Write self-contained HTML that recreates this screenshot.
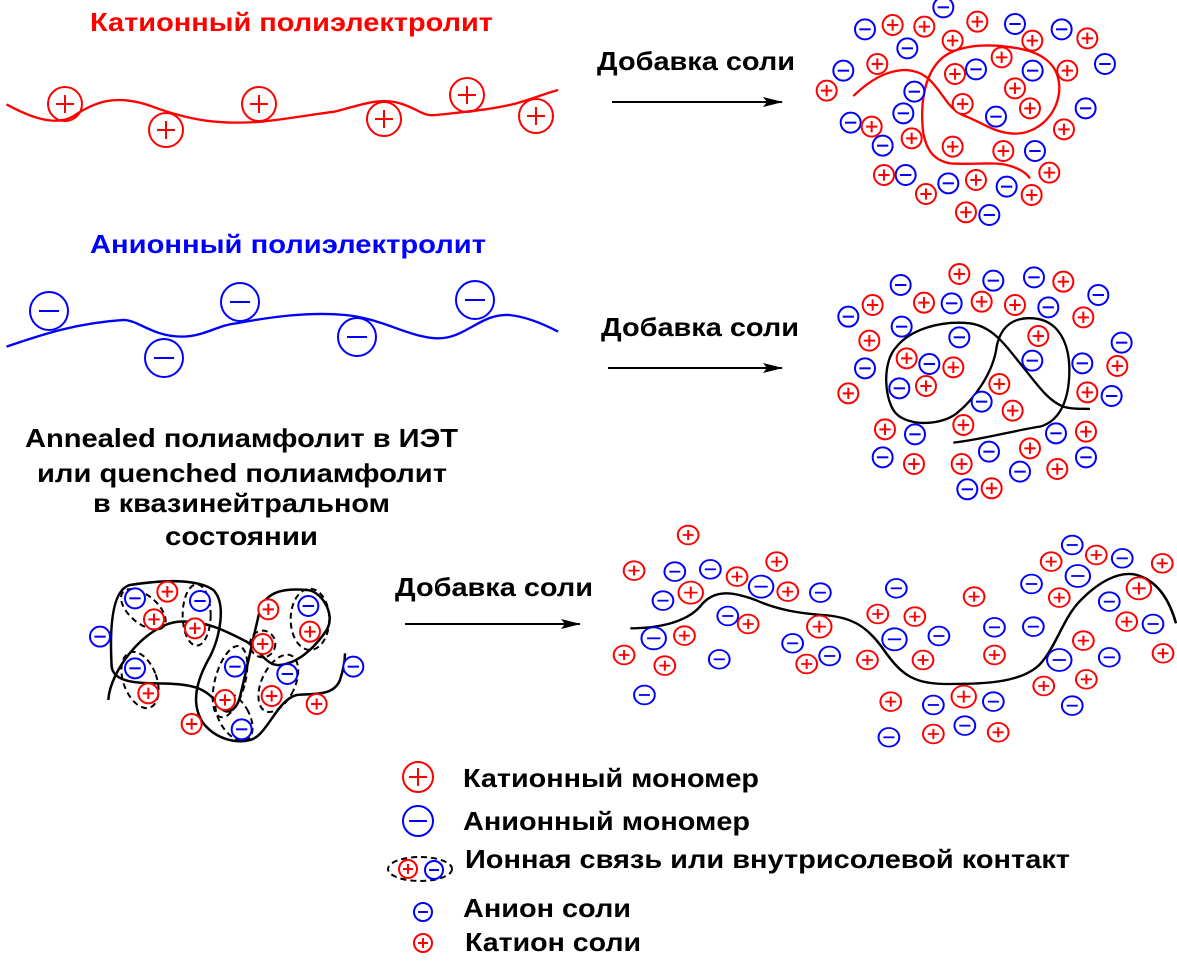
<!DOCTYPE html>
<html><head><meta charset="utf-8"><style>html,body{margin:0;padding:0;background:#fff;}svg{display:block;}
text{font-family:"Liberation Sans",sans-serif;font-weight:bold;font-size:26px;}</style></head><body>
<svg width="1177" height="968" viewBox="0 0 1177 968" xmlns="http://www.w3.org/2000/svg">
<defs>
<marker id="ah" markerWidth="20" markerHeight="10" refX="19" refY="5" orient="auto" markerUnits="userSpaceOnUse"><path d="M0,0 L20,5 L0,10 L4,5 Z" fill="#000"/></marker>
<symbol id="p3" overflow="visible"><circle r="30" fill="#fff" stroke="#f00" stroke-width="6"/><path d="M-17,0H17M0,-17V17" stroke="#f00" stroke-width="6"/></symbol>
<symbol id="m3" overflow="visible"><circle r="30" fill="#fff" stroke="#00f" stroke-width="6"/><path d="M-17,0H17" stroke="#00f" stroke-width="6"/></symbol>
<symbol id="pk" overflow="visible"><circle r="28" fill="#fff" stroke="#f00" stroke-width="5.4"/><path d="M-15,0H15M0,-15V15" stroke="#f00" stroke-width="5.4"/></symbol>
<symbol id="mk" overflow="visible"><circle r="28" fill="#fff" stroke="#00f" stroke-width="5.4"/><path d="M-15,0H15" stroke="#00f" stroke-width="5.4"/></symbol>
<symbol id="pK" overflow="visible"><circle r="33" fill="#fff" stroke="#f00" stroke-width="5.4"/><path d="M-18,0H18M0,-18V18" stroke="#f00" stroke-width="5.4"/></symbol>
<symbol id="mK" overflow="visible"><circle r="33" fill="#fff" stroke="#00f" stroke-width="5.4"/><path d="M-18,0H18" stroke="#00f" stroke-width="5.4"/></symbol>
<symbol id="pb" overflow="visible"><circle r="17" fill="none" stroke="#f00" stroke-width="2"/><path d="M-9,0H9M0,-9V9" stroke="#f00" stroke-width="2"/></symbol>
<symbol id="mb" overflow="visible"><circle r="19" fill="none" stroke="#00f" stroke-width="2"/><path d="M-10,0H10" stroke="#00f" stroke-width="2"/></symbol>
</defs>

<text x="90" y="31" fill="#f00" textLength="403" lengthAdjust="spacingAndGlyphs">Катионный полиэлектролит</text>
<text x="597" y="70" fill="#000" textLength="198" lengthAdjust="spacingAndGlyphs">Добавка соли</text>
<line x1="612" y1="102" x2="782" y2="102" stroke="#000" stroke-width="2" marker-end="url(#ah)"/>
<text x="90" y="253" fill="#00f" textLength="396" lengthAdjust="spacingAndGlyphs">Анионный полиэлектролит</text>
<text x="601" y="336" fill="#000" textLength="198" lengthAdjust="spacingAndGlyphs">Добавка соли</text>
<line x1="608" y1="368" x2="782" y2="368" stroke="#000" stroke-width="2" marker-end="url(#ah)"/>
<text x="25" y="447" textLength="433" lengthAdjust="spacingAndGlyphs">Annealed полиамфолит в ИЭТ</text>
<text x="37" y="482" textLength="410" lengthAdjust="spacingAndGlyphs">или quenched полиамфолит</text>
<text x="93" y="512" textLength="297" lengthAdjust="spacingAndGlyphs">в квазинейтральном</text>
<text x="165" y="545" textLength="153" lengthAdjust="spacingAndGlyphs">состоянии</text>
<text x="395" y="596" textLength="198" lengthAdjust="spacingAndGlyphs">Добавка соли</text>
<line x1="405" y1="624" x2="580" y2="624" stroke="#000" stroke-width="2" marker-end="url(#ah)"/>

<g transform="translate(0,70) scale(0.3636,0.3333)">
<path d="M18,103 C80,140 150,170 200,140 C260,95 320,70 420,110 C520,150 600,165 720,155 C800,145 880,130 920,125 C980,110 1040,80 1100,100 C1150,115 1160,140 1200,135 C1280,125 1350,120 1420,100 C1470,85 1500,70 1535,60" fill="none" stroke="#f00" stroke-width="7"/>
<path d="M18,830 C100,800 200,760 340,750 C380,750 420,800 500,800 C560,800 600,765 650,760 C750,740 850,725 950,735 C1050,745 1120,800 1200,805 C1280,808 1320,730 1400,735 C1450,740 1500,765 1535,785" fill="none" stroke="#00f" stroke-width="7"/>
</g>
<use href="#pb" x="65" y="104"/><use href="#pb" x="166" y="130"/><use href="#pb" x="259" y="104"/><use href="#pb" x="384" y="119"/><use href="#pb" x="467" y="95"/><use href="#pb" x="536" y="116"/>
<use href="#mb" x="49" y="311"/><use href="#mb" x="164" y="358"/><use href="#mb" x="240" y="302"/><use href="#mb" x="357" y="337"/><use href="#mb" x="475" y="300"/>

<g transform="translate(820,0) scale(0.3333)">
<path d="M100,288 C150,240 200,210 260,210 C320,215 340,250 370,290 C390,320 410,340 440,350 C490,370 520,395 570,400 C650,410 720,340 718,260 C715,180 650,150 560,140 C480,130 400,140 360,180 C310,230 300,320 310,400 C320,450 340,480 390,490 C450,495 520,485 560,495 C600,505 620,520 630,535" fill="none" stroke="#f00" stroke-width="7"/>
<use href="#m3" x="370" y="22"/><use href="#m3" x="135" y="88"/><use href="#m3" x="585" y="72"/><use href="#m3" x="725" y="88"/><use href="#m3" x="262" y="145"/><use href="#m3" x="468" y="208"/><use href="#m3" x="638" y="212"/><use href="#m3" x="855" y="192"/><use href="#m3" x="70" y="212"/><use href="#m3" x="283" y="275"/><use href="#m3" x="250" y="340"/><use href="#m3" x="528" y="350"/><use href="#m3" x="797" y="325"/><use href="#m3" x="92" y="368"/><use href="#m3" x="188" y="437"/><use href="#m3" x="645" y="453"/><use href="#m3" x="257" y="525"/><use href="#m3" x="385" y="550"/><use href="#m3" x="560" y="560"/><use href="#m3" x="508" y="645"/>
<use href="#p3" x="218" y="75"/><use href="#p3" x="313" y="80"/><use href="#p3" x="472" y="65"/><use href="#p3" x="398" y="122"/><use href="#p3" x="637" y="122"/><use href="#p3" x="802" y="115"/><use href="#p3" x="172" y="192"/><use href="#p3" x="545" y="172"/><use href="#p3" x="742" y="212"/><use href="#p3" x="405" y="222"/><use href="#p3" x="585" y="265"/><use href="#p3" x="20" y="272"/><use href="#p3" x="428" y="312"/><use href="#p3" x="630" y="325"/><use href="#p3" x="155" y="380"/><use href="#p3" x="275" y="415"/><use href="#p3" x="732" y="388"/><use href="#p3" x="398" y="440"/><use href="#p3" x="550" y="453"/><use href="#p3" x="192" y="525"/><use href="#p3" x="688" y="518"/><use href="#p3" x="468" y="540"/><use href="#p3" x="318" y="582"/><use href="#p3" x="635" y="585"/><use href="#p3" x="438" y="637"/>
</g>

<g transform="translate(830,260) scale(0.3333)">
<path d="M370,548 C450,540 560,510 630,500 C700,480 720,400 718,320 C715,240 680,180 610,175 C540,170 510,210 500,260 C490,340 430,420 380,460 C330,500 220,500 190,450 C160,400 160,300 200,260 C240,210 330,180 420,190 C490,200 530,260 570,310 C620,370 650,420 700,440 C730,450 760,445 780,447" fill="none" stroke="#000" stroke-width="7"/>
<use href="#m3" x="212" y="75"/><use href="#m3" x="490" y="62"/><use href="#m3" x="612" y="52"/><use href="#m3" x="805" y="105"/><use href="#m3" x="55" y="170"/><use href="#m3" x="365" y="130"/><use href="#m3" x="655" y="142"/><use href="#m3" x="215" y="200"/><use href="#m3" x="388" y="232"/><use href="#m3" x="875" y="248"/><use href="#m3" x="105" y="325"/><use href="#m3" x="298" y="312"/><use href="#m3" x="607" y="302"/><use href="#m3" x="757" y="310"/><use href="#m3" x="208" y="385"/><use href="#m3" x="455" y="425"/><use href="#m3" x="845" y="408"/><use href="#m3" x="255" y="523"/><use href="#m3" x="678" y="520"/><use href="#m3" x="158" y="592"/><use href="#m3" x="477" y="575"/><use href="#m3" x="768" y="592"/><use href="#m3" x="570" y="635"/><use href="#m3" x="412" y="688"/>
<use href="#p3" x="388" y="42"/><use href="#p3" x="700" y="65"/><use href="#p3" x="128" y="135"/><use href="#p3" x="282" y="128"/><use href="#p3" x="455" y="125"/><use href="#p3" x="555" y="135"/><use href="#p3" x="760" y="172"/><use href="#p3" x="118" y="242"/><use href="#p3" x="625" y="228"/><use href="#p3" x="230" y="295"/><use href="#p3" x="370" y="322"/><use href="#p3" x="862" y="318"/><use href="#p3" x="288" y="378"/><use href="#p3" x="508" y="372"/><use href="#p3" x="55" y="400"/><use href="#p3" x="772" y="397"/><use href="#p3" x="548" y="452"/><use href="#p3" x="165" y="508"/><use href="#p3" x="400" y="495"/><use href="#p3" x="768" y="515"/><use href="#p3" x="600" y="565"/><use href="#p3" x="252" y="612"/><use href="#p3" x="395" y="612"/><use href="#p3" x="682" y="627"/><use href="#p3" x="485" y="685"/>
</g>

<g transform="translate(80,570) scale(0.3333)">
<path d="M85,390 C90,300 200,160 300,155 C380,150 450,190 500,215 C540,240 560,290 600,285 C650,280 700,240 740,180 C770,130 720,60 680,60 C620,55 560,60 540,120 C520,200 500,300 480,380 C470,420 440,440 420,410 C380,350 330,340 230,340 C150,340 100,330 95,290 C90,200 90,60 150,45 C250,30 350,25 400,60 C440,100 420,200 390,260 C350,330 330,400 370,460 C410,510 470,520 510,510 C560,500 590,390 650,375 C700,370 760,380 780,330 C790,300 795,270 795,250" fill="none" stroke="#000" stroke-width="7.5"/>
<g fill="none" stroke="#000" stroke-width="6" stroke-dasharray="18,12">
<ellipse cx="190" cy="118" rx="80" ry="42" transform="rotate(40 190 118)"/>
<ellipse cx="350" cy="135" rx="42" ry="92"/>
<ellipse cx="180" cy="330" rx="50" ry="88" transform="rotate(-20 180 330)"/>
<ellipse cx="450" cy="335" rx="45" ry="110" transform="rotate(15 450 335)"/>
<ellipse cx="690" cy="148" rx="58" ry="92"/>
<ellipse cx="595" cy="340" rx="50" ry="92" transform="rotate(25 595 340)"/>
<ellipse cx="462" cy="440" rx="45" ry="80" transform="rotate(-30 462 440)"/>
<ellipse cx="548" cy="222" rx="38" ry="40"/>
</g>
<use href="#m3" x="165" y="85"/><use href="#m3" x="360" y="93"/><use href="#m3" x="60" y="200"/><use href="#m3" x="165" y="295"/><use href="#m3" x="465" y="290"/><use href="#m3" x="622" y="312"/><use href="#m3" x="485" y="478"/><use href="#m3" x="685" y="108"/><use href="#m3" x="820" y="290"/>
<use href="#p3" x="262" y="65"/><use href="#p3" x="222" y="148"/><use href="#p3" x="345" y="175"/><use href="#p3" x="565" y="118"/><use href="#p3" x="548" y="222"/><use href="#p3" x="690" y="185"/><use href="#p3" x="205" y="370"/><use href="#p3" x="435" y="390"/><use href="#p3" x="575" y="378"/><use href="#p3" x="710" y="402"/><use href="#p3" x="335" y="462"/>
</g>

<g transform="translate(600,520) scale(0.3704,0.3333)">
<path d="M82,325 C150,325 230,310 270,260 C310,200 370,220 420,240 C480,270 540,280 600,285 C680,290 720,320 760,380 C810,460 840,490 930,492 C1030,493 1140,490 1190,430 C1230,380 1250,300 1290,250 C1340,190 1400,150 1450,165 C1510,185 1540,250 1555,310" fill="none" stroke="#000" stroke-width="7"/>
<use href="#mk" x="202" y="155"/><use href="#mk" x="298" y="148"/><use href="#mk" x="170" y="242"/><use href="#mK" x="435" y="200"/><use href="#mk" x="595" y="218"/><use href="#mk" x="345" y="288"/><use href="#mK" x="145" y="355"/><use href="#mk" x="800" y="205"/><use href="#mk" x="520" y="370"/><use href="#mk" x="620" y="408"/><use href="#mk" x="322" y="418"/><use href="#mK" x="795" y="358"/><use href="#mk" x="915" y="348"/><use href="#mk" x="1065" y="322"/><use href="#mk" x="1170" y="320"/><use href="#mk" x="1165" y="192"/><use href="#mk" x="1275" y="75"/><use href="#mk" x="1410" y="115"/><use href="#mK" x="1290" y="168"/><use href="#mk" x="1375" y="245"/><use href="#mk" x="1493" y="312"/><use href="#mK" x="1240" y="420"/><use href="#mk" x="1375" y="412"/><use href="#mk" x="1275" y="557"/><use href="#mk" x="120" y="525"/><use href="#mk" x="900" y="555"/><use href="#mk" x="1062" y="545"/><use href="#mk" x="985" y="617"/><use href="#mk" x="780" y="652"/>
<use href="#pk" x="238" y="45"/><use href="#pk" x="92" y="152"/><use href="#pK" x="245" y="218"/><use href="#pk" x="370" y="170"/><use href="#pk" x="477" y="125"/><use href="#pk" x="507" y="215"/><use href="#pk" x="400" y="312"/><use href="#pk" x="228" y="347"/><use href="#pK" x="592" y="320"/><use href="#pk" x="750" y="282"/><use href="#pk" x="850" y="290"/><use href="#pk" x="65" y="405"/><use href="#pk" x="175" y="437"/><use href="#pk" x="558" y="432"/><use href="#pk" x="722" y="420"/><use href="#pk" x="872" y="420"/><use href="#pk" x="1010" y="230"/><use href="#pk" x="1065" y="405"/><use href="#pk" x="1218" y="125"/><use href="#pk" x="1340" y="105"/><use href="#pk" x="1240" y="233"/><use href="#pk" x="1518" y="130"/><use href="#pK" x="1455" y="205"/><use href="#pk" x="1422" y="305"/><use href="#pk" x="1305" y="362"/><use href="#pk" x="1520" y="400"/><use href="#pk" x="1313" y="478"/><use href="#pk" x="1198" y="498"/><use href="#pk" x="785" y="545"/><use href="#pK" x="982" y="530"/><use href="#pk" x="900" y="642"/><use href="#pk" x="1075" y="637"/>
</g>

<circle cx="418" cy="777" r="15" fill="none" stroke="#f00" stroke-width="2"/><path d="M409,777H427M418,768V786" stroke="#f00" stroke-width="2"/>
<circle cx="418" cy="821" r="15" fill="none" stroke="#00f" stroke-width="2"/><path d="M409,821H427" stroke="#00f" stroke-width="2"/>
<ellipse cx="420" cy="869" rx="32" ry="12" fill="none" stroke="#000" stroke-width="2" stroke-dasharray="6,4"/>
<circle cx="408" cy="869" r="9" fill="#fff" stroke="#f00" stroke-width="2"/><path d="M403,869H413M408,864V874" stroke="#f00" stroke-width="2"/>
<circle cx="434" cy="870" r="9" fill="#fff" stroke="#00f" stroke-width="2"/><path d="M429,870H439" stroke="#00f" stroke-width="2"/>
<circle cx="423" cy="912" r="9" fill="none" stroke="#00f" stroke-width="2"/><path d="M418,912H428" stroke="#00f" stroke-width="2"/>
<circle cx="423" cy="943" r="9" fill="none" stroke="#f00" stroke-width="2"/><path d="M418,943H428M423,938V948" stroke="#f00" stroke-width="2"/>
<text x="463" y="787" textLength="296" lengthAdjust="spacingAndGlyphs">Катионный мономер</text>
<text x="463" y="830" textLength="287" lengthAdjust="spacingAndGlyphs">Анионный мономер</text>
<text x="465" y="868" textLength="605" lengthAdjust="spacingAndGlyphs">Ионная связь или внутрисолевой контакт</text>
<text x="463" y="917" textLength="168" lengthAdjust="spacingAndGlyphs">Анион соли</text>
<text x="465" y="951" textLength="176" lengthAdjust="spacingAndGlyphs">Катион соли</text>
</svg>
</body></html>
